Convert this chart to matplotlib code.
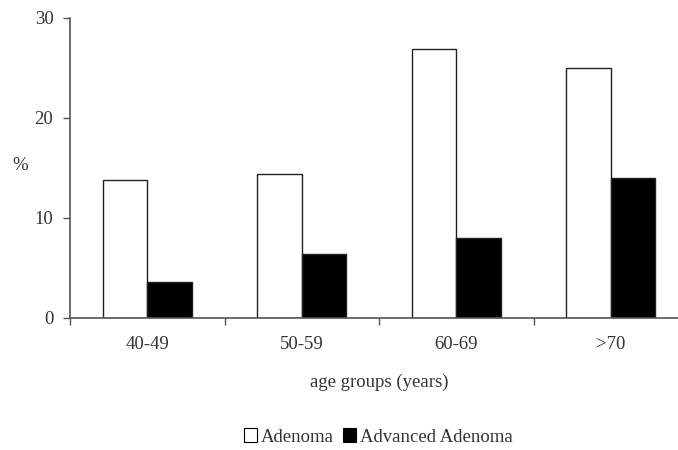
import numpy as np
import matplotlib
matplotlib.use("Agg")
import matplotlib.pyplot as plt
from matplotlib.patches import Patch

plt.rcParams["font.family"] = ["Liberation Serif", "DejaVu Serif"]

# Data
age_groups = ["40-49", "50-59", "60-69", ">70"]
adenoma = [13.8, 14.4, 26.9, 25.0]
advanced_adenoma = [3.6, 6.4, 8.0, 14.0]

axis_color = "#555555"
text_color = "#333333"

fig = plt.figure(figsize=(6.78, 4.5), dpi=100)
# axis runs past the right edge of the image in the original
ax = fig.add_axes([70 / 678, 1 - 318 / 450, 618 / 678, 300 / 450])

x = np.arange(len(age_groups))
width = 0.287
ax.bar(x - width / 2, adenoma, width, color="white", edgecolor="#222222",
       linewidth=1.0, label="Adenoma")
ax.bar(x + width / 2, advanced_adenoma, width, color="black", edgecolor="#222222",
       linewidth=1.0, label="Advanced Adenoma")

ax.set_xlim(-0.5, len(age_groups) - 0.5)
ax.set_ylim(0, 30)
ax.set_yticks([0, 10, 20, 30])

# ticks at group boundaries, labels centered under groups
ax.set_xticks(np.arange(len(age_groups)) - 0.5)
ax.set_xticklabels([])
ax.set_xticks(x, minor=True)
ax.set_xticklabels(age_groups, minor=True)
ax.tick_params(axis="x", which="minor", length=0, pad=13, labelsize=13.5,
               labelcolor=text_color)
ax.tick_params(axis="x", which="major", length=5, width=1, color=axis_color,
               direction="out")
ax.tick_params(axis="y", length=5, width=1, color=axis_color, direction="out",
               labelsize=13.5, labelcolor=text_color, pad=7)

for side in ["top", "right"]:
    ax.spines[side].set_visible(False)
for side in ["left", "bottom"]:
    ax.spines[side].set_color(axis_color)
    ax.spines[side].set_linewidth(1.2)

ax.set_xlabel("age groups (years)", fontsize=13.5, color=text_color, labelpad=15)
fig.text(20 / 678, 1 - 165 / 450, "%", fontsize=13.5, color=text_color,
         ha="center", va="center")

handles = [Patch(facecolor="white", edgecolor="black", linewidth=0.8),
           Patch(facecolor="black", edgecolor="black", linewidth=0.8)]
fig.legend(handles, ["Adenoma", "Advanced Adenoma"], loc="center",
           bbox_to_anchor=(378 / 678, 1 - 437 / 450), ncol=2, frameon=False,
           fontsize=13.5, handlelength=0.7, handleheight=0.7, handletextpad=0.2,
           columnspacing=0.5, labelcolor=text_color)

fig.savefig("out.png", dpi=100)
